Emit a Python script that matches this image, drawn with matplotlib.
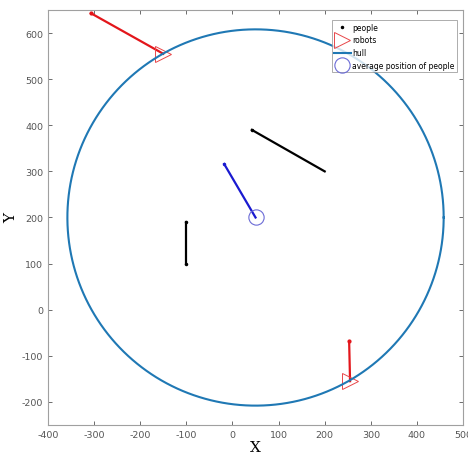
import numpy as np
import matplotlib.pyplot as plt

plt.rcParams['axes.unicode_minus'] = False

# people: start and end of each trajectory
people_start_x = [200, -100]
people_start_y = [300, 100]
people_end_x = [42, -100]
people_end_y = [390, 190]

# robots and their heading lines
robot_x = [-150, 255]
robot_y = [555, -155]
robot_tip_x = [-307, 253]
robot_tip_y = [643, -68]

# average position of people and its motion
avg_x, avg_y = 50, 200
avg_tip_x, avg_tip_y = -18, 316

# hull circle
hull_cx, hull_cy, hull_r = 50, 200, 408

xticks = [-400, -300, -200, -100, 0, 100, 200, 300, 400, 500]
yticks = [-200, -100, 0, 100, 200, 300, 400, 500, 600]

fig = plt.figure(figsize=(4.68, 4.56), dpi=100)
ax = fig.add_axes([0.1026, 0.0658, 0.8868, 0.9101])

# trajectories
for sx, sy, ex, ey in zip(people_start_x, people_start_y, people_end_x, people_end_y):
    ax.plot([sx, ex], [sy, ey], color='black', lw=1.6)
for rx, ry, tx, ty in zip(robot_x, robot_y, robot_tip_x, robot_tip_y):
    ax.plot([rx, tx], [ry, ty], color='#e3161b', lw=1.6)
    ax.plot(tx, ty, '.', color='#e3161b', ms=4)
ax.plot([avg_x, avg_tip_x], [avg_y, avg_tip_y], color='#1a1ad0', lw=1.6)
ax.plot(avg_tip_x, avg_tip_y, '.', color='#1a1ad0', ms=3)

h_people, = ax.plot(people_end_x + people_start_x[1:], people_end_y + people_start_y[1:],
                    '.', color='black', ms=3, label='people')
h_robots, = ax.plot(robot_x, robot_y, '>', mfc='none', mec='#e8474a', ms=11, mew=0.7,
                    label='robots')

t = np.linspace(0, 2 * np.pi, 400)
h_hull, = ax.plot(hull_cx + hull_r * np.cos(t), hull_cy + hull_r * np.sin(t),
                  color='#1f78b4', lw=1.5, label='hull')
h_avg, = ax.plot(avg_x, avg_y, 'o', mfc='none', mec='#6b6bd6', ms=11, mew=0.8,
                 label='average position of people')

ax.set_xlim(-400, 500)
ax.set_ylim(-250, 650)
ax.set_xticks(xticks)
ax.set_yticks(yticks)
ax.tick_params(direction='in', top=True, right=True, labelsize=6.8, colors='#555555',
               length=3, width=0.6)
for sp in ax.spines.values():
    sp.set_color('#a0a0a0')
    sp.set_linewidth(0.8)

ax.set_xlabel('X', family='DejaVu Serif', fontsize=11)
ax.set_ylabel('Y', family='DejaVu Serif', fontsize=11)
ax.xaxis.set_label_coords(0.5, -0.036)
ax.yaxis.set_label_coords(-0.072, 0.5)

leg = ax.legend(handles=[h_people, h_robots, h_hull, h_avg], loc='upper right',
                bbox_to_anchor=(0.985, 0.975),
                fontsize=5.5, frameon=True, fancybox=False, edgecolor='#888888',
                handlelength=2.2, handletextpad=0.2, borderpad=0.3, labelspacing=0.5,
                borderaxespad=0.0)
leg.get_frame().set_linewidth(0.6)

fig.savefig('out.png', dpi=100)
